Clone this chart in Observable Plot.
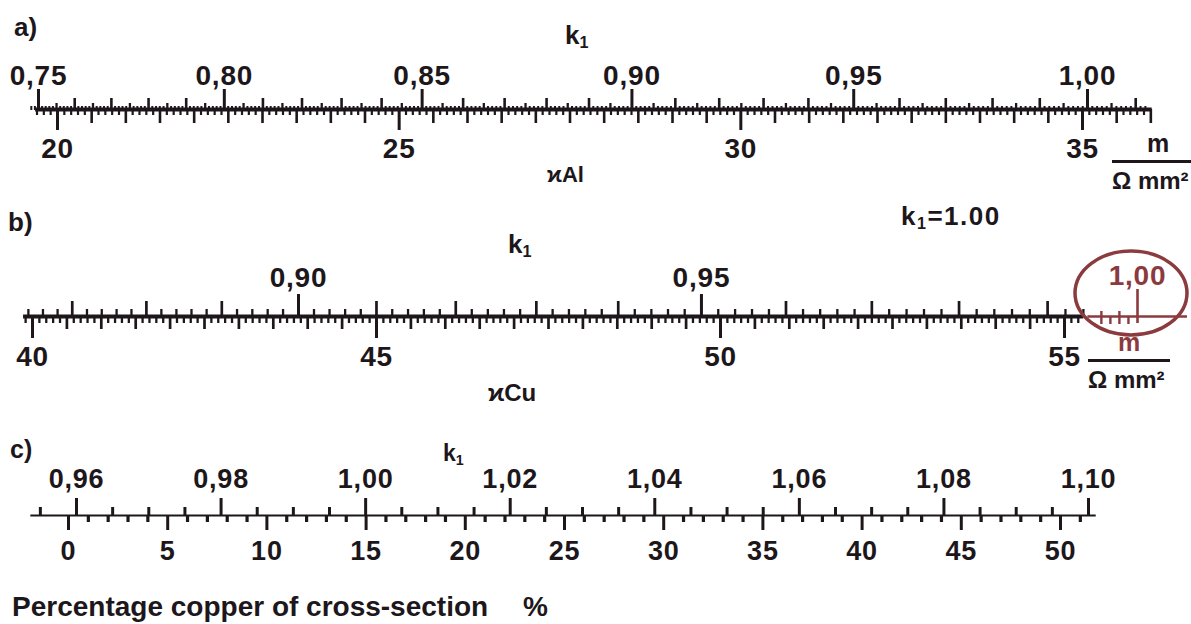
<!DOCTYPE html>
<html>
<head>
<meta charset="utf-8">
<script src="https://cdn.jsdelivr.net/npm/d3@7"></script>
<script src="https://cdn.jsdelivr.net/npm/@observablehq/plot@0.6"></script>
<style>
  body { margin: 0; background: #fff; }
  #root { position: relative; width: 1191px; height: 624px; overflow: hidden; background: #fff;
          font-family: "Liberation Sans", Arial, sans-serif; color: #1d171b; }
  .t { position: absolute; white-space: nowrap; line-height: 1; font-weight: bold; }
  .t sub { font-size: 0.62em; vertical-align: -0.25em; line-height: 0; }
  .unit { position: absolute; text-align: center; font-weight: bold; line-height: 1; }
</style>
</head>
<body>
<div id="root"></div>
<script>
// ---------------- data: labelled ticks of each double scale ----------------
// a) conductivity of aluminium (m / Ω mm²) against correction factor k1
const aK1Labels    = [0.75, 0.80, 0.85, 0.90, 0.95, 1.00];
const aKappaLabels = [20, 25, 30, 35];
// b) conductivity of copper against k1 (1,00 added by hand in red)
const bK1Labels    = [0.90, 0.95];
const bK1HandLabel = [1.00];
const bKappaLabels = [40, 45, 50, 55];
// c) percentage copper of cross-section against k1
const cK1Labels    = [0.96, 0.98, 1.00, 1.02, 1.04, 1.06, 1.08, 1.10];
const cPctLabels   = [0, 5, 10, 15, 20, 25, 30, 35, 40, 45, 50];

// ---------------- styling / layout ----------------
const ink = "#1d171b";
const red = "#8b3a3e";
const FONT = "Liberation Sans, Arial, sans-serif";
const W = 1191;
const root = document.getElementById("root");
const comma = d => d.toFixed(2).replace(".", ",");

// minor tick values at a step, leaving out those that fall on a coarser step
function steps(lo, hi, step, coarser = []) {
  const n0 = Math.ceil(lo / step - 1e-9), n1 = Math.floor(hi / step + 1e-9);
  return d3.range(n0, n1 + 1).map(i => +(i * step).toFixed(6))
    .filter(v => !coarser.some(s => Math.abs(v / s - Math.round(v / s)) < 1e-6));
}

// x scale options calibrated on two labelled ticks of the printed scale
function calib(type, exponent, v0, p0, v1, p1, lo, hi) {
  const s = (type === "pow" ? d3.scalePow().exponent(exponent) : d3.scaleLinear())
    .domain([v0, v1]).range([p0, p1]);
  const o = {type, domain: [lo, hi], range: [s(lo), s(hi)]};
  if (type === "pow") o.exponent = exponent;
  return o;
}

// unlabelled ticks
function minor(values, anchor, size, width, color = ink) {
  return Plot.axisX(values, {anchor, tickSize: size, strokeWidth: width, stroke: color, fill: "none", tickFormat: () => ""});
}

function scaleLayer({top, height, lineY, x, marks, fontSize = 28}) {
  const mt = lineY - top;
  const svg = Plot.plot({
    width: W, height,
    marginTop: mt, marginBottom: height - mt, marginLeft: 0, marginRight: 0,
    x,
    y: {domain: [-1, 1], range: [mt, mt], axis: null},
    style: {background: "transparent", fontFamily: FONT, fontWeight: "bold", fontSize: `${fontSize}px`,
            letterSpacing: "0.8px", overflow: "visible", color: ink},
    marks
  });
  const holder = document.createElement("div");
  holder.style.cssText = `position:absolute;left:0;top:${top}px;width:${W}px;height:${height}px;`;
  holder.append(svg);
  root.append(holder);
}

function addText(html, left, top, size, extra = "") {
  const d = document.createElement("div");
  d.className = "t";
  d.style.cssText = `left:${left}px;top:${top}px;font-size:${size}px;${extra}`;
  d.innerHTML = html;
  root.append(d);
}

function addUnit(left, top, width, mColor) {
  const d = document.createElement("div");
  d.className = "unit";
  d.style.cssText = `left:${left}px;top:${top}px;width:${width}px;`;
  d.innerHTML = `<div style="font-size:25px;color:${mColor};padding-bottom:4px;border-bottom:3px solid ${ink}">m</div>` +
                `<div style="font-size:24px;padding-top:6px;text-align:left">Ω mm²</div>`;
  root.append(d);
}

// ================= a) =================
{
  const top = 40, height = 140, lineY = 109;
  const kLo = 0.748, kHi = 1.0125, vLo = 19.68, vHi = 36.02;
  scaleLayer({top, height, lineY,
    x: calib("pow", 2, 0.75, 38, 1.00, 1087, kLo, kHi),
    marks: [
      Plot.axisX(aK1Labels, {anchor: "top", tickSize: 21, tickPadding: 4, tickFormat: comma, fontSize: 28, strokeWidth: 3}),
      minor(steps(kLo, kHi, 0.01, [0.05]), "top", 12, 2.6),
      minor(steps(kLo, kHi, 0.005, [0.01]), "top", 7, 2.3),
      minor(steps(kLo, kHi, 0.001, [0.005]), "top", 4, 2)
    ]});
  scaleLayer({top, height, lineY,
    x: calib("linear", 1, 20, 57, 35, 1082, vLo, vHi),
    marks: [
      Plot.ruleY([0], {x1: vLo, x2: vHi, strokeWidth: 3.8, stroke: ink}),
      Plot.axisX(aKappaLabels, {anchor: "bottom", tickSize: 21, tickPadding: 8, tickFormat: d => String(d), fontSize: 28, strokeWidth: 3}),
      minor(steps(vLo, vHi, 0.5, [5]), "bottom", 14, 2.6),
      minor(steps(vLo, vHi, 0.1, [0.5]), "bottom", 6, 2.2)
    ]});
  addText("a)", 14, 14, 26);
  addText("k<sub>1</sub>", 565, 22, 26);
  addText("ϰAl", 547, 164, 22);
  addUnit(1112, 131, 92, ink);
}

// ================= b) =================
{
  const top = 250, height = 130, lineY = 316;
  const kLo = 0.864, kBlack = 0.9945, kHi = 1.0055, vLo = 39.87, vHi = 55.28;
  scaleLayer({top, height, lineY,
    x: calib("pow", 2.5, 0.90, 298, 1.00, 1137, kLo, kHi),
    marks: [
      Plot.axisX(bK1Labels, {anchor: "top", tickSize: 23, tickPadding: 7, tickFormat: comma, fontSize: 28, strokeWidth: 3}),
      minor(steps(kLo, kBlack, 0.01, [0.05]), "top", 16, 2.7),
      minor(steps(kLo, kBlack, 0.002, [0.01]), "top", 8, 2.3),
      // hand-drawn red extension
      Plot.ruleY([0], {x1: kBlack, x2: kHi, strokeWidth: 2.5, stroke: red}),
      Plot.axisX(bK1HandLabel, {anchor: "top", tickSize: 28, tickPadding: 4, tickFormat: comma, fontSize: 28, strokeWidth: 2.6, stroke: red, fill: red}),
      minor(bK1HandLabel, "bottom", 7, 2.6, red),
      minor(steps(0.9955, 0.9995, 0.001), "bottom", 8, 2.4, red),
      minor([0.996, 0.998], "top", 6, 2.4, red)
    ]});
  scaleLayer({top, height, lineY,
    x: calib("linear", 1, 40, 32, 55, 1064, vLo, vHi),
    marks: [
      Plot.ruleY([0], {x1: vLo, x2: vHi, strokeWidth: 4, stroke: ink}),
      Plot.axisX(bKappaLabels, {anchor: "bottom", tickSize: 22, tickPadding: 8, tickFormat: d => String(d), fontSize: 28, strokeWidth: 3}),
      minor(steps(vLo, vHi, 0.5, [5]), "bottom", 13, 2.7),
      minor(steps(vLo, vHi, 0.1, [0.5]), "bottom", 7, 2.3)
    ]});
  addText("b)", 8, 209, 26);
  addText("k<sub>1</sub>", 508, 231, 26);
  addText("k<sub>1</sub>=1.00", 901, 203, 26, "letter-spacing:1.5px");
  addText("ϰCu", 488, 381, 24);
  addUnit(1088, 330, 82, red);
  // red hand-drawn ellipse round the 1,00 mark
  const ns = "http://www.w3.org/2000/svg";
  const s = document.createElementNS(ns, "svg");
  s.setAttribute("width", W); s.setAttribute("height", 624);
  s.style.cssText = "position:absolute;left:0;top:0;pointer-events:none;";
  const e = document.createElementNS(ns, "ellipse");
  e.setAttribute("cx", 1131); e.setAttribute("cy", 293);
  e.setAttribute("rx", 56); e.setAttribute("ry", 42);
  e.setAttribute("fill", "none"); e.setAttribute("stroke", red); e.setAttribute("stroke-width", 3.5);
  s.append(e);
  root.append(s);
}

// ================= c) =================
{
  const top = 440, height = 140, lineY = 515;
  const kLo = 0.955, kHi = 1.101, pLo = -1.9, pHi = 51.8;
  scaleLayer({top, height, lineY, fontSize: 27,
    x: calib("linear", 1, 0.96, 76, 1.10, 1088, kLo, kHi),
    marks: [
      Plot.axisX(cK1Labels, {anchor: "top", tickSize: 18, tickPadding: 10, tickFormat: comma, fontSize: 27, strokeWidth: 3}),
      minor(steps(kLo, kHi, 0.005, [0.02]), "top", 9, 3)
    ]});
  scaleLayer({top, height, lineY, fontSize: 27,
    x: calib("linear", 1, 0, 68, 50, 1060, pLo, pHi),
    marks: [
      Plot.ruleY([0], {x1: pLo, x2: pHi, strokeWidth: 2.2, stroke: ink}),
      Plot.axisX(cPctLabels, {anchor: "bottom", tickSize: 15, tickPadding: 10, tickFormat: d => String(d), fontSize: 27, strokeWidth: 3}),
      minor(steps(0, 51, 1, [5]), "bottom", 7, 3.2)
    ]});
  addText("c)", 10, 437, 25);
  addText("k<sub>1</sub>", 443, 442, 23);
  addText("Percentage copper of cross-section", 12, 593, 28);
  addText("%", 523, 593, 28);
}
</script>
</body>
</html>
